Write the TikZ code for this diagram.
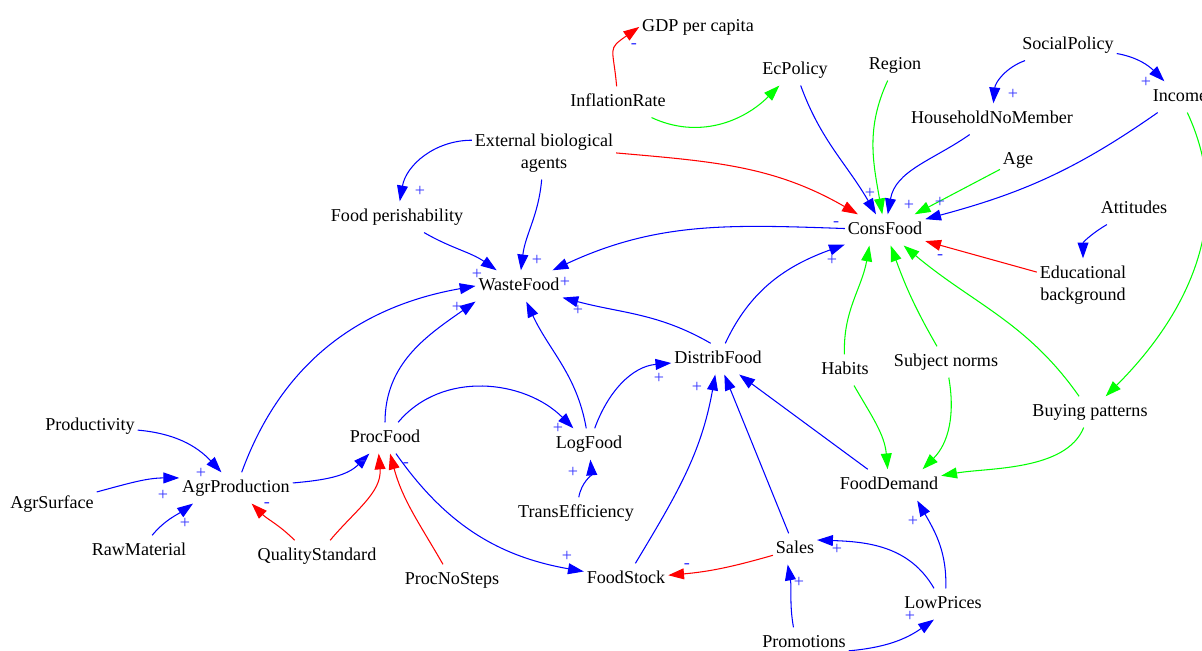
\documentclass[tikz,border=0pt]{standalone}
\usepackage{fontspec}
\setmainfont{Liberation Serif}
\usetikzlibrary{arrows.meta}

\tikzset{
    var/.style={inner xsep=1.5pt, inner ysep=4pt, text height=7.2pt, text depth=2.2pt,
        yshift=-1.1pt, font=\fontsize{10.3}{12.5}\selectfont},
    vartwo/.style={inner xsep=1.5pt, inner ysep=4pt, align=center,
        yshift=-1.1pt, font=\fontsize{10.3}{12.5}\selectfont},
    link/.style={line width=0.6pt, -{Triangle[length=9pt,width=6.2pt]}},
    blueedge/.style={link, blue},
    rededge/.style={link, red},
    greenedge/.style={link, green},
    sgn/.style={text=blue!80, inner sep=0pt, font=\fontsize{10.3}{12}\selectfont},
}

\begin{document}
\begin{tikzpicture}[x=0.02cm, y=0.02cm]

    % Frame (pixel units, y up)
    \def\pagew{1202}
    \def\pageh{650}
    \useasboundingbox (0,0) rectangle (\pagew,\pageh);

    % Variables
    \node[var] (gdp) at (698,625) {GDP per capita};
    \node[var] (inflation) at (618,550) {InflationRate};
    \node[var] (ecpolicy) at (795,582) {EcPolicy};
    \node[var] (region) at (895,587) {Region};
    \node[var] (social) at (1068,607) {SocialPolicy};
    \node[var] (income) at (1180,555) {Income};
    \node[var] (household) at (992,533) {HouseholdNoMember};
    \node[var] (age) at (1018,492) {Age};
    \node[vartwo] (external) at (544,499) {External biological\\agents};
    \node[var] (perish) at (397,435) {Food perishability};
    \node[var] (consfood) at (885,422) {ConsFood};
    \node[var] (attitudes) at (1134,443) {Attitudes};
    \node[vartwo] (educ) at (1083,367) {Educational\\background};
    \node[var] (waste) at (519,366) {WasteFood};
    \node[var] (distrib) at (718,293) {DistribFood};
    \node[var] (habits) at (845,282) {Habits};
    \node[var] (subject) at (946,290) {Subject norms};
    \node[var] (buying) at (1090,240) {Buying patterns};
    \node[var] (productivity) at (90,226) {Productivity};
    \node[var] (procfood) at (385,214) {ProcFood};
    \node[var] (logfood) at (589,208) {LogFood};
    \node[var] (agrprod) at (236,164) {AgrProduction};
    \node[var] (agrsurface) at (52,148) {AgrSurface};
    \node[var] (fooddemand) at (889,167) {FoodDemand};
    \node[var] (transeff) at (576,139) {TransEfficiency};
    \node[var] (rawmat) at (139,101) {RawMaterial};
    \node[var] (quality) at (317,96) {QualityStandard};
    \node[var] (sales) at (795,103) {Sales};
    \node[var] (procnosteps) at (452,72) {ProcNoSteps};
    \node[var] (foodstock) at (626,73) {FoodStock};
    \node[var] (lowprices) at (943,48) {LowPrices};
    \node[var] (promotions) at (804,9) {Promotions};

    % Red links
    \draw[rededge] (inflation) to[out=95,in=215,looseness=1.6] (gdp.west);
    \draw[rededge] (external.east) to[out=-5,in=150] (consfood);
    \draw[rededge] (educ) -- (consfood);
    \draw[rededge] (quality.145) to[out=135,in=-45] (agrprod);
    \draw[rededge] (quality) to[out=50,in=-85] (procfood.-112);
    \draw[rededge] (procnosteps) to[out=120,in=-75] (procfood.-72);
    \draw[rededge] (sales) to[out=196,in=5] (foodstock);

    % Green links
    \draw[greenedge] (inflation) to[out=-25,in=225] (ecpolicy);
    \draw[greenedge] (region) to[out=-115,in=100] (consfood);
    \draw[greenedge] (age) -- (consfood);
    \draw[greenedge] (income) to[out=-65,in=45] (buying);
    \draw[greenedge] (habits) to[out=92,in=-100] (consfood.-135);
    \draw[greenedge] (subject) to[out=120,in=-70] (consfood);
    \draw[greenedge] (buying) to[out=125,in=-40] (consfood);
    \draw[greenedge] (habits) to[out=-60,in=95] (fooddemand);
    \draw[greenedge] (subject) to[out=-80,in=45] (fooddemand.25);
    \draw[greenedge] (buying) to[out=-112,in=10,looseness=0.8] (fooddemand);

    % Blue links
    \draw[blueedge] (social) to[out=200,in=85] (household);
    \draw[blueedge] (social) to[out=-10,in=135] (income);
    \draw[blueedge] (ecpolicy) to[out=-70,in=120] (consfood);
    \draw[blueedge] (household) to[out=215,in=80] (consfood);
    \draw[blueedge] (income) to[out=215,in=15] (consfood);
    \draw[blueedge] (attitudes) to[out=210,in=90] (educ);
    \draw[blueedge] (external.170) to[out=180,in=80] (perish);
    \draw[blueedge] (external) to[out=-95,in=83] (waste);
    \draw[blueedge] (perish) to[out=-30,in=145] (waste);
    \draw[blueedge] (consfood) to[out=178,in=25] (waste);
    \draw[blueedge] (distrib.115) to[out=150,in=-15] (waste);
    \draw[blueedge] (logfood) to[out=100,in=-65] (waste);
    \draw[blueedge] (procfood) to[out=90,in=215] (waste.south west);
    \draw[blueedge] (agrprod) to[out=70,in=190] (waste.west);
    \draw[blueedge] (procfood) to[out=50,in=135] (logfood);
    \draw[blueedge] (logfood) to[out=70,in=185] (distrib);
    \draw[blueedge] (distrib) to[out=65,in=200] (consfood);
    \draw[blueedge] (foodstock) to[out=59,in=-100] (distrib);
    \draw[blueedge] (sales) -- (distrib);
    \draw[blueedge] (fooddemand) -- (distrib);
    \draw[blueedge] (transeff) to[out=80,in=-85] (logfood);
    \draw[blueedge] (productivity) to[out=-5,in=133] (agrprod);
    \draw[blueedge] (agrsurface) to[out=15,in=180] (agrprod.170);
    \draw[blueedge] (rawmat) to[out=50,in=215] (agrprod.200);
    \draw[blueedge] (agrprod) to[out=5,in=225] (procfood);
    \draw[blueedge] (procfood) to[out=-55,in=170] (foodstock);
    \draw[blueedge] (promotions.124) to[out=100,in=-80] (sales.-115);
    \draw[blueedge] (promotions.-10) to[out=5,in=215] (lowprices.240);
    \draw[blueedge] (lowprices) to[out=120,in=-2] (sales.22);
    \draw[blueedge] (lowprices.80) to[out=88,in=-60] (fooddemand.-29);

    % Signs
    \foreach \x/\y in {1013/556, 1146/568, 420/459, 870/457, 909/445, 940/448,
        832/390, 537/390, 477/376, 565/368, 578/340, 457/343, 659/272, 697/263,
        558/222, 573/178, 201/177, 163/155, 185/127, 567/94, 837/101, 799/68,
        913/129, 910/34}
        \node[sgn] at (\x,\y) {+};
    \foreach \x/\y in {634/604, 836/426, 940/393, 267/145, 363/187, 406/185, 687/84}
        \node[sgn] at (\x,\y) {-};

\end{tikzpicture}
\end{document}
